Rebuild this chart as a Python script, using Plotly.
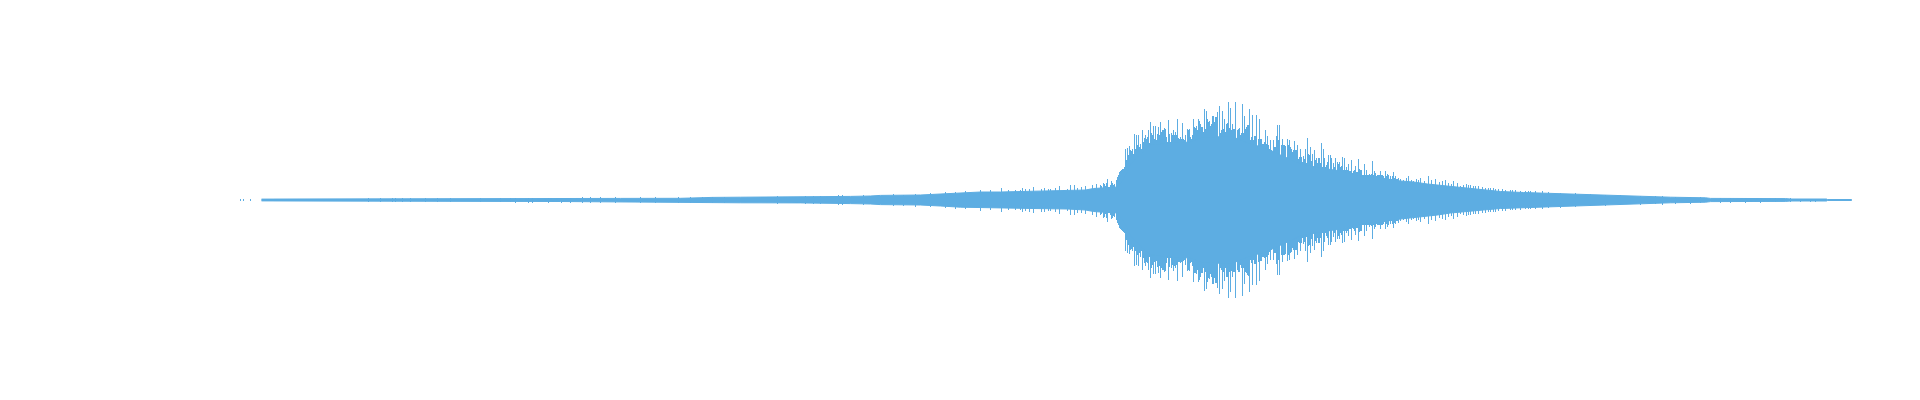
import plotly.graph_objects as go

# ---- data ----
# Smooth body envelope of the waveform (sample position, half amplitude)
body_t = [261, 368, 400, 450, 500, 560, 620, 680, 700, 712, 740, 800, 825, 850, 870, 880,
          920, 940, 960, 980, 1000, 1033, 1067, 1085, 1093, 1100, 1117, 1120, 1125, 1130,
          1140, 1150, 1170, 1190, 1200, 1230, 1250, 1265, 1280, 1300, 1320, 1340, 1360,
          1380, 1400, 1413, 1427, 1437, 1450, 1467, 1483, 1500, 1523, 1550, 1583, 1617,
          1650, 1670, 1705, 1710, 1785, 1790, 1826, 1827, 1851]
body_amp = [0.9, 0.9, 1.1, 1.2, 1.4, 1.5, 1.6, 1.7, 1.8, 2.6, 2.8, 2.9, 3.2, 3.6, 4.0, 4.6,
            5.0, 6.0, 7.2, 8.0, 8.0, 8.5, 9.0, 10.0, 11.5, 12.0, 13.0, 17.0, 24.0, 36.0,
            46.0, 55.0, 57.0, 58.0, 62.0, 64.0, 56.0, 52.0, 45.0, 36.0, 32.0, 29.0, 24.0,
            22.0, 19.0, 18.0, 16.0, 15.0, 13.0, 11.5, 10.0, 8.5, 7.5, 6.5, 5.5, 4.2,
            3.5, 2.8, 2.2, 1.6, 1.4, 1.0, 1.0, 0.5, 0.5]

# Column-by-column peaks of the loud part, starting at sample 1100
dense_start = 1100
dense_amp = [
    14.8, 14, 11.5, 17.5, 16.5, 14, 17.5, 21.5, 13, 13, 15, 19, 17.5, 15.5, 16.5, 11.5, 20, 23, 25, 28, 29, 30, 31, 31.5, 33,
    51, 40, 52.5, 45, 54, 50, 49, 51, 46.5, 66, 51, 65, 55, 65.5, 53, 56.5, 51, 70, 58, 62.5, 65.5, 61.5, 63, 70, 57,
    78, 67.5, 65, 74, 61.5, 74, 60.5, 66.5, 73, 65.5, 78, 68, 70, 70, 72, 71, 63, 58, 80, 66.5, 58, 67.5, 65, 70.5, 65.5,
    68, 65, 81, 62, 61.5, 63, 61.5, 77, 61, 60, 65, 53, 71, 70, 71, 63, 61.5, 65.5, 81.5, 73, 72.5, 74, 70, 81.5, 79.5,
    76.5, 73, 73, 68, 91, 71.5, 89, 81.5, 78, 79, 74, 76.5, 84, 84, 78, 83, 83, 88, 63, 94, 67.5, 70, 89, 71.5, 81,
    68, 76.5, 77, 98, 72, 92, 70.5, 76.5, 71.5, 71.5, 98, 60, 70, 71.5, 72, 65, 67.5, 96, 67.5, 84, 71.5, 73, 75, 75.5, 91.5,
    60, 63, 85, 60, 64, 64, 85, 53, 61.5, 81, 61, 61, 56.5, 56.5, 58, 70, 56.5, 64, 55, 51.5, 60, 50, 43, 60, 53,
    53, 64, 75, 60, 75, 43, 55, 61.5, 55, 55, 54, 41.5, 61, 55, 60, 53, 51.5, 48, 50, 59, 50, 50, 55, 41.5, 43,
    50.8, 43, 38, 44, 41.5, 51, 37, 62, 46, 45, 53, 39, 46, 30, 50, 40.5, 42.5, 37.5, 42.5, 42.5, 37.5, 57, 33, 51, 42,
    33, 35.5, 38, 45, 30.5, 45, 42, 30, 36.8, 33, 42, 26, 38.5, 36, 38.5, 33, 34.5, 43, 30.5, 42, 30.5, 33, 30.5, 36, 29,
    29, 40, 27.5, 29, 30.5, 34.5, 28, 28, 41, 31.5, 30.5, 30.5, 25, 25, 36, 25, 30.5, 25, 25, 26.5, 25, 26, 39, 25, 29,
    27, 24, 25, 25, 25, 29, 25, 25, 24, 21, 29, 24, 26.5, 25, 21, 24, 21, 24, 28, 22.5, 24, 21, 21, 22.5, 19,
]

# Isolated peaks elsewhere
spike_t = [240, 243, 250,
           368, 380, 392, 395, 402, 410, 425, 437, 450, 480, 500, 510,
           515, 528, 532, 548, 561, 570, 582, 590, 600, 615, 640, 655, 678, 690, 702, 712,
           724, 777, 805, 813, 820, 838, 842, 863, 893, 903, 915,
           930, 945, 955, 965, 980, 990, 1001, 1008, 1015, 1020, 1022, 1025, 1029, 1033,
           1041, 1044, 1048, 1050, 1055, 1059, 1067, 1070, 1074, 1077, 1081, 1085, 1092, 1096,
           1400, 1403, 1406, 1408, 1411, 1413, 1416, 1418, 1420, 1424, 1428, 1431, 1435,
           1439, 1442, 1445, 1448, 1451, 1453, 1457, 1460, 1463, 1466, 1468, 1470, 1473,
           1475, 1478, 1482, 1485, 1488, 1490, 1493, 1495, 1498, 1502, 1505, 1510, 1512,
           1515, 1520, 1525, 1528, 1530, 1535, 1542, 1548,
           1560, 1575, 1590, 1605, 1620, 1640, 1655, 1662, 1675, 1690, 1700, 1720, 1730,
           1745, 1760, 1775, 1790, 1800, 1810, 1815]
spike_amp = [0.5, 0.5, 0.5,
             1.8, 1.8, 1.8, 1.9, 1.9, 2.0, 2.0, 2.1, 2.1, 2.2, 2.4, 2.4,
             2.5, 2.5, 2.5, 2.5, 2.5, 2.5, 2.6, 2.6, 2.6, 2.6, 2.7, 2.7, 2.8, 2.8, 2.8, 3.2,
             3.4, 3.8, 3.8, 3.8, 3.8, 4.8, 4.8, 4.8, 5.8, 5.5, 6.5,
             7.0, 8.0, 8.5, 9.0, 10.5, 10.0, 11.8, 10.0, 10.0, 9.8, 12.0, 10.8, 11.5, 12.8,
             11.5, 12.0, 11.0, 11.0, 12.0, 13.8, 11.0, 14.8, 14.8, 12.5, 13.0, 13.8, 14.8, 16.5,
             21, 20, 22, 24, 20, 19, 21, 20, 22, 19, 24, 20, 21,
             18, 19, 20, 17, 16, 19, 17, 14, 15, 16, 15, 15, 14,
             14, 14, 13, 12.5, 12, 12, 12, 11.5, 11, 11, 10.5, 10, 10,
             10, 9.5, 9, 9, 9, 9, 9, 8,
             7.5, 7, 6, 5.5, 5, 4.5, 4, 4.5, 3.5, 3.5, 3, 2.5, 2.5,
             2.5, 2.5, 2.2, 1.8, 1.5, 1.5, 1.5]

COLOR = "#5DADE2"

peak_t = [dense_start + i for i in range(len(dense_amp))] + spike_t
peak_amp = dense_amp + spike_amp

fig = go.Figure()

# Body as a filled, mirrored envelope
poly_x = body_t + body_t[::-1]
poly_y = body_amp + [-a for a in body_amp[::-1]]
fig.add_trace(go.Scatter(x=poly_x, y=poly_y, fill="toself", fillcolor=COLOR,
                         mode="lines", line=dict(color=COLOR, width=1),
                         hoverinfo="skip", showlegend=False))

# Peaks as one-sample-wide mirrored bars
fig.add_trace(go.Bar(x=peak_t, y=[2 * a for a in peak_amp], base=[-a for a in peak_amp],
                     width=1, marker=dict(color=COLOR, line=dict(width=0)),
                     hoverinfo="skip", showlegend=False))

fig.update_layout(
    width=1920, height=400,
    margin=dict(l=0, r=0, t=0, b=0),
    paper_bgcolor="white", plot_bgcolor="white",
    bargap=0, barmode="overlay",
    xaxis=dict(range=[-0.5, 1919.5], visible=False, fixedrange=True),
    yaxis=dict(range=[-200, 200], visible=False, fixedrange=True),
)

fig.write_html("out.html", post_script="document.body.style.margin='0';",
               config={"displayModeBar": False})
